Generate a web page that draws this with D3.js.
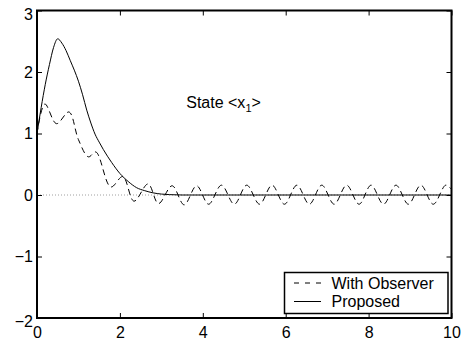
<!DOCTYPE html>
<html>
<head>
<meta charset="utf-8">
<script src="https://cdn.jsdelivr.net/npm/d3@7"></script>
<style>
  html, body { margin: 0; padding: 0; background: #fff; }
  svg { display: block; }
  text { font-family: "Liberation Sans", Arial, Helvetica, sans-serif; fill: #000; }
</style>
</head>
<body>
<svg id="chart" width="473" height="344"></svg>
<script>
// ---- data ----
const proposedT = [0, 0.1, 0.2, 0.3, 0.4, 0.5, 0.6, 0.7, 0.8, 0.9, 1.0, 1.1, 1.2, 1.3, 1.4, 1.5, 1.6, 1.8, 2.0, 2.2, 2.4, 2.6, 2.8, 3.0, 3.2, 3.5, 4.0, 10];
const proposedY = [1.0, 1.42, 1.8, 2.12, 2.4, 2.54, 2.47, 2.35, 2.19, 2.03, 1.85, 1.63, 1.38, 1.17, 0.99, 0.86, 0.74, 0.53, 0.35, 0.22, 0.12, 0.07, 0.035, 0.015, 0.006, 0.0, 0.0, 0.0];

const observerT = [0, 0.19, 0.47, 0.77, 1.0, 1.24, 1.42, 1.78, 2.07, 2.34, 2.68, 2.93, 3.26, 3.55, 3.85, 4.14, 4.45, 4.76, 5.06, 5.37, 5.67, 5.97, 6.27, 6.57, 6.87, 7.17, 7.47, 7.77, 8.06, 8.36, 8.66, 8.96, 9.26, 9.56, 9.86, 10];
const observerY = [1.0, 1.48, 1.16, 1.35, 0.9, 0.62, 0.70, 0.13, 0.30, -0.10, 0.18, -0.14, 0.15, -0.16, 0.15, -0.15, 0.16, -0.15, 0.16, -0.15, 0.16, -0.15, 0.16, -0.15, 0.16, -0.15, 0.16, -0.15, 0.16, -0.15, 0.16, -0.15, 0.16, -0.15, 0.16, 0.09];

const xTicks = [0, 2, 4, 6, 8, 10];
const yTicks = [-2, -1, 0, 1, 2, 3];
const legendLabels = ["With Observer", "Proposed"];
const annotation = "State <x";
const annotationSub = "1";

// ---- layout ----
const svg = d3.select("#chart");
const L = 37, R = 451.5, T = 10.5, B = 318;
const x = d3.scaleLinear().domain([0, 10]).range([L, R]);
const y = d3.scaleLinear().domain([-2, 3]).range([B, T]);

// zero dotted line
svg.append("line")
  .attr("x1", x(0)).attr("x2", x(10))
  .attr("y1", y(0)).attr("y2", y(0))
  .attr("stroke", "#a0a0a0").attr("stroke-width", 1)
  .attr("stroke-dasharray", "1,2");

const proposed = proposedT.map((t, i) => [t, proposedY[i]]);
const observer = observerT.map((t, i) => [t, observerY[i]]);

const lineGen = d3.line().x(d => x(d[0])).y(d => y(d[1]));

svg.append("path")
  .datum(observer)
  .attr("d", lineGen.curve(d3.curveCatmullRom.alpha(0.5)))
  .attr("fill", "none").attr("stroke", "#000").attr("stroke-width", 1)
  .attr("stroke-dasharray", "6,4");

svg.append("path")
  .datum(proposed)
  .attr("d", d3.line().x(d => x(d[0])).y(d => y(d[1])).curve(d3.curveMonotoneX))
  .attr("fill", "none").attr("stroke", "#000").attr("stroke-width", 1);

// axes (inward ticks, on all four sides)
const fontSize = 16;
const xAxisB = svg.append("g").attr("transform", `translate(0,${B})`)
  .call(d3.axisBottom(x).tickValues(xTicks).tickSize(-5).tickPadding(9).tickFormat(d3.format("d")));
const xAxisT = svg.append("g").attr("transform", `translate(0,${T})`)
  .call(d3.axisTop(x).tickValues(xTicks).tickSize(-5).tickFormat(""));
const yAxisL = svg.append("g").attr("transform", `translate(${L},0)`)
  .call(d3.axisLeft(y).tickValues(yTicks).tickSize(-5).tickPadding(4)
    .tickFormat(d => d < 0 ? "\u2212" + Math.abs(d) : String(d)));
const yAxisR = svg.append("g").attr("transform", `translate(${R},0)`)
  .call(d3.axisRight(y).tickValues(yTicks).tickSize(-5).tickFormat(""));

[xAxisB, xAxisT, yAxisL, yAxisR].forEach(g => {
  g.select(".domain").remove();
  g.selectAll(".tick line").attr("stroke", "#000").attr("stroke-width", 1);
  g.selectAll("text").attr("font-size", fontSize).attr("font-family", "Liberation Sans, Arial, sans-serif").attr("fill", "#000");
});
// the extreme y labels sit slightly inside the frame, as in the reference
yAxisL.selectAll(".tick text").attr("dy", d => d === 3 ? "0.55em" : (d === -2 ? "0.5em" : "0.32em"));
xAxisB.selectAll(".tick text").attr("dy", "0.71em");

// frame
svg.append("rect")
  .attr("x", L).attr("y", T).attr("width", R - L).attr("height", B - T)
  .attr("fill", "none").attr("stroke", "#000").attr("stroke-width", 2);

// annotation
const ann = svg.append("text")
  .attr("x", x(3.6)).attr("y", y(1.42))
  .attr("font-size", fontSize);
ann.append("tspan").text(annotation);
ann.append("tspan").text(annotationSub).attr("font-size", 11).attr("dy", 4);
ann.append("tspan").text(">").attr("dy", -4);

// legend
const lg = svg.append("g");
lg.append("rect")
  .attr("x", 284.5).attr("y", 272.5).attr("width", 163.5).attr("height", 41)
  .attr("fill", "#fff").attr("stroke", "#000").attr("stroke-width", 1.5);
const rowsY = [283, 301.5];
lg.append("line").attr("x1", 294).attr("x2", 321).attr("y1", rowsY[0]).attr("y2", rowsY[0])
  .attr("stroke", "#000").attr("stroke-width", 1).attr("stroke-dasharray", "5,6");
lg.append("line").attr("x1", 294).attr("x2", 321).attr("y1", rowsY[1]).attr("y2", rowsY[1])
  .attr("stroke", "#000").attr("stroke-width", 1);
legendLabels.forEach((lab, i) => {
  lg.append("text").attr("x", 331.5).attr("y", rowsY[i]).attr("dy", "0.36em")
    .attr("font-size", fontSize).text(lab);
});
</script>
</body>
</html>
